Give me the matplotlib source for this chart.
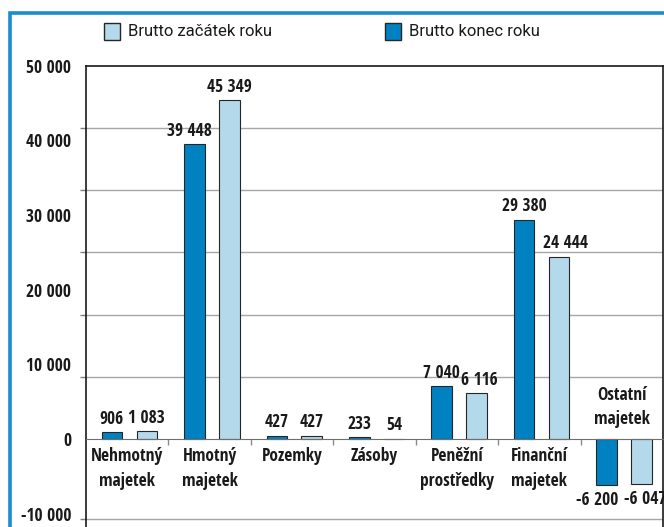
import matplotlib
matplotlib.use('Agg')
import matplotlib.pyplot as plt
from matplotlib.patches import Rectangle
from matplotlib.ticker import FixedLocator, NullFormatter
from matplotlib import font_manager

# ---------------- data ----------------
categories = ['Nehmotný\nmajetek', 'Hmotný\nmajetek', 'Pozemky', 'Zásoby',
              'Peněžní\nprostředky', 'Finanční\nmajetek', 'Ostatní\nmajetek']
brutto_konec = [906, 39448, 427, 233, 7040, 29380, -6200]
brutto_zacatek = [1083, 45349, 427, 54, 6116, 24444, -6047]
series_names = ['Brutto začátek roku', 'Brutto konec roku']
y_label_values = [-10000, 0, 10000, 20000, 30000, 40000, 50000]
grid_values = [-10750, 0, 50000 / 6, 2 * 50000 / 6, 3 * 50000 / 6,
               4 * 50000 / 6, 5 * 50000 / 6, 50000]

# ---------------- font choice (condensed if available) ----------------
def _is_cond(f):
    s = f.stretch
    if isinstance(s, str):
        return 'condensed' in s
    try:
        return int(s) < 500
    except Exception:
        return False

ALL_FONTS = font_manager.fontManager.ttflist

def pick_font():
    prefs = ['Liberation Sans Narrow', 'Open Sans Condensed', 'Noto Sans Condensed',
             'Noto Sans', 'Open Sans', 'Roboto Condensed', 'Roboto', 'DejaVu Sans Condensed',
             'DejaVu Sans', 'Lato', 'Inter']
    cands = {}
    for f in ALL_FONTS:
        if 'Narrow' in f.name or 'Condensed' in f.name or _is_cond(f):
            cands.setdefault(f.name, []).append(f)
    for p in prefs:
        if p in cands:
            return p, True
    for n in cands:
        if 'Mono' not in n and 'Serif' not in n and 'CJK' not in n:
            return n, True
    return 'DejaVu Sans', False

FONT, CONDENSED = pick_font()
plt.rcParams['font.family'] = [FONT, 'DejaVu Sans']
if CONDENSED:
    plt.rcParams['font.stretch'] = 'condensed'
FS = 12.5 if CONDENSED else 10.5

# regular-weight narrow-ish face for the legend
have = {f.name for f in ALL_FONTS}
LEG_FONT = next((n for n in ['Roboto', 'Lato', 'Liberation Sans', 'DejaVu Sans'] if n in have),
                'DejaVu Sans')

DARK = '#0082C2'
LIGHT = '#B4D9EA'
BORDER = '#1A8CCD'
GRID = '#A6A6A6'
TXT = '#1a1a1a'

# label nudges (points) to keep neighbouring value labels apart
nudge_konec = {1: -3.5, 6: -7}
nudge_zacatek = {4: 2, 5: 5, 6: 3}

W, H = 664, 527
fig = plt.figure(figsize=(W / 100, H / 100), dpi=100)

def fx(px):
    return px / W

def fy(py):
    return 1 - py / H

# outer blue frame (continues beyond the cropped right/bottom edges)
fig.add_artist(Rectangle((fx(10), fy(560)), fx(700), 560 / H - 13 / H,
                         transform=fig.transFigure, fill=False,
                         edgecolor=BORDER, linewidth=2.6))

ax_left, ax_right, ax_top = 86, 663, 65.7
ax = fig.add_axes([fx(ax_left), 0, fx(ax_right - ax_left), (H - ax_top) / H])

zero_px = 439
scale = (zero_px - ax_top) / 50000.0
ax.set_ylim(-(H - zero_px) / scale, 50000)
ax.set_xlim(-0.5, len(categories) - 0.5)

bw = 0.25
off_dark, off_light = -0.185, 0.238
x = list(range(len(categories)))
ax.bar([i + off_dark for i in x], brutto_konec, width=bw, color=DARK,
       edgecolor='#262626', linewidth=0.8, zorder=3)
ax.bar([i + off_light for i in x], brutto_zacatek, width=bw, color=LIGHT,
       edgecolor='#262626', linewidth=0.8, zorder=3)

def fmt(v):
    return f'{v:,}'.replace(',', '\u00a0')

for i in x:
    for off, v, nd in ((off_dark, brutto_konec[i], nudge_konec.get(i, 0)),
                       (off_light, brutto_zacatek[i], nudge_zacatek.get(i, 0))):
        if v >= 0:
            ax.annotate(fmt(v), (i + off, v), xytext=(nd, 6), textcoords='offset points',
                        ha='center', va='baseline', fontsize=FS, fontweight='bold',
                        color=TXT, zorder=5)
        else:
            ax.annotate(fmt(v), (i + off, v), xytext=(nd, -4), textcoords='offset points',
                        ha='center', va='top', fontsize=FS, fontweight='bold',
                        color=TXT, zorder=5)

# category labels
for i, name in enumerate(categories):
    if brutto_konec[i] >= 0:
        ax.annotate(name, (i, 0), xytext=(0, -6), textcoords='offset points',
                    ha='center', va='top', fontsize=FS, fontweight='bold',
                    linespacing=1.45, color=TXT)
    else:
        ax.annotate(name, (i, 0), xytext=(0, 8), textcoords='offset points',
                    ha='center', va='bottom', fontsize=FS, fontweight='bold',
                    linespacing=1.45, color=TXT)

# y axis: labels on round values, ticks + gridlines on grid values
ax.yaxis.set_major_locator(FixedLocator(y_label_values))
ax.set_yticklabels([fmt(v) for v in y_label_values], fontsize=FS, fontweight='bold',
                   color=TXT)
ax.tick_params(axis='y', which='major', length=0, pad=10.5)
ax.yaxis.set_minor_locator(FixedLocator(grid_values))
ax.yaxis.set_minor_formatter(NullFormatter())
ax.tick_params(axis='y', which='minor', length=4, width=1, color='#7f7f7f')
ax.grid(True, axis='y', which='minor', color=GRID, linewidth=1)
ax.set_axisbelow(True)

# x axis: line at zero with boundary ticks
ax.spines['bottom'].set_position(('data', 0))
ax.spines['bottom'].set_color('#6e6e6e')
ax.spines['bottom'].set_zorder(4)
ax.set_xticks([i + 0.5 for i in x[:-1]])
ax.set_xticklabels([])
ax.tick_params(axis='x', length=4, width=1, color='#8c8c8c', direction='out')
for s in ('left', 'top', 'right'):
    ax.spines[s].set_color(TXT)
    ax.spines[s].set_linewidth(1.2)

# legend
box_w, box_h = 16, 17
for bx, tx, col, name in ((104, 128, LIGHT, series_names[0]),
                          (385, 409, DARK, series_names[1])):
    fig.add_artist(Rectangle((fx(bx), fy(23 + box_h)), fx(box_w), box_h / H,
                             transform=fig.transFigure, facecolor=col,
                             edgecolor='#262626', linewidth=1))
    fig.text(fx(tx), fy(32), name, ha='left', va='center', fontsize=12,
             family=[LEG_FONT, 'DejaVu Sans'], fontweight='normal',
             fontstretch='normal', color=TXT)

fig.savefig('out.png', dpi=100)
